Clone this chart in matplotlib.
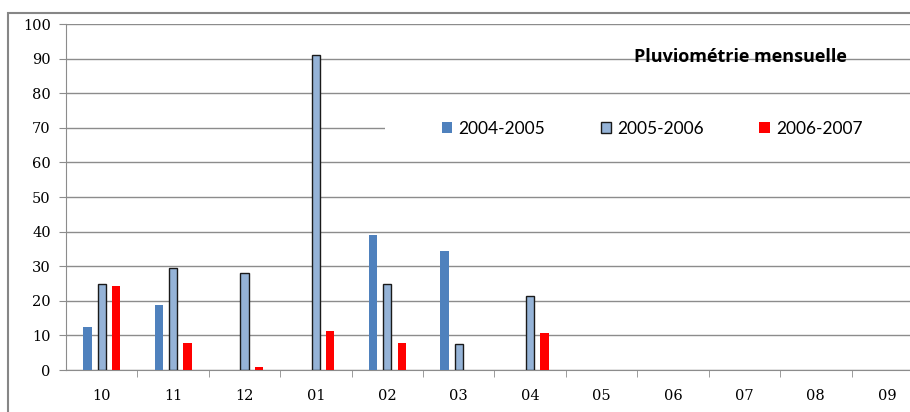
import numpy as np
import matplotlib.pyplot as plt
from matplotlib.patches import Rectangle

# pluviometrie mensuelle (mm), saison oct -> sept
mois = ['10', '11', '12', '01', '02', '03', '04', '05', '06', '07', '08', '09']
p_2004_2005 = [12.3, 18.9, 0, 0, 39.0, 34.3, 0, 0, 0, 0, 0, 0]
p_2005_2006 = [25.0, 29.5, 28.0, 91.0, 25.0, 7.5, 21.3, 0, 0, 0, 0, 0]
p_2006_2007 = [24.3, 7.9, 0.9, 11.3, 7.9, 0, 10.7, 0, 0, 0, 0, 0]
saisons = ['2004-2005', '2005-2006', '2006-2007']

W, H = 910, 412
fig = plt.figure(figsize=(W / 100, H / 100), dpi=100)

# cadre exterieur du graphique
fig.patches.append(Rectangle((8 / W, -0.1), 1.2, (H - 13) / H + 0.1,
                             transform=fig.transFigure, fill=False,
                             edgecolor='#868686', lw=1.5))

x0, x1, y0, y1 = 66, 923, 370, 24
ax = fig.add_axes([x0 / W, (H - y0) / H, (x1 - x0) / W, (y0 - y1) / H])

x = np.arange(len(mois))
bw = 0.115
off = 0.2
ax.bar(x - off, p_2004_2005, bw, color='#4F81BD', label=saisons[0], zorder=3)
ax.bar(x, p_2005_2006, bw, color='#95B3D7', edgecolor='#1a1a1a',
       lw=[1.0 if v > 0 else 0 for v in p_2005_2006],
       label=saisons[1], zorder=3)
ax.bar(x + off, p_2006_2007, bw, color='#FF0000', label=saisons[2], zorder=3)

ax.set_xlim(-0.5, len(mois) - 0.5)
ax.set_ylim(0, 100)
ax.set_yticks(np.arange(0, 101, 10))
ax.set_xticks(x)
ax.set_xticklabels(mois)
ax.set_xticks(np.arange(0.5, len(mois) - 0.5), minor=True)

ax.yaxis.grid(True, color='#8c8c8c', lw=1.0, zorder=0)
ax.set_axisbelow(True)
for s in ['top', 'right']:
    ax.spines[s].set_visible(False)
ax.spines['left'].set_color('#8c8c8c')
ax.spines['bottom'].set_color('#8c8c8c')

ax.tick_params(axis='y', length=5, color='#8c8c8c', pad=6)
ax.tick_params(axis='x', which='major', length=0, pad=14)
ax.tick_params(axis='x', which='minor', length=5, color='#8c8c8c')
for lab in ax.get_xticklabels() + ax.get_yticklabels():
    lab.set_family('DejaVu Serif')
    lab.set_fontsize(10.5)

ax.text(740 / W, (H - 57) / H, 'Pluviométrie mensuelle', transform=fig.transFigure,
        ha='center', va='center', fontsize=13, fontweight='bold',
        family='Open Sans', zorder=5)

# fond blanc derriere la legende
fig.patches.append(Rectangle((385 / W, (H - 152) / H), 0.7, 46 / H,
                             transform=fig.transFigure, facecolor='white',
                             edgecolor='none', zorder=1))
ax.set_zorder(0)
ax.patch.set_visible(False)

leg = fig.legend(*ax.get_legend_handles_labels(), loc='center left',
                 bbox_to_anchor=(442 / W, (H - 129) / H),
                 ncol=3, frameon=False, borderpad=0, borderaxespad=0,
                 prop={'family': 'Lato', 'size': 12.5},
                 handlelength=0.6, handleheight=0.6, handletextpad=0.35,
                 columnspacing=3.2)

fig.savefig('out.png', dpi=100)
